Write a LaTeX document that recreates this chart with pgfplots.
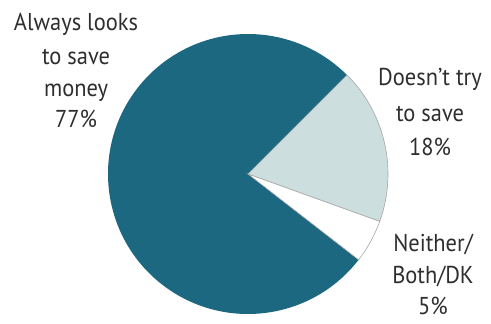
\documentclass[border=0pt]{standalone}
\usepackage{pgfplots}
\usepackage{pgfplotstable}
\pgfplotsset{compat=1.18}
\usepackage{fontspec}
\setmainfont[FakeStretch=0.92]{PT Sans}
\definecolor{darkteal}{RGB}{28,104,128}
\definecolor{lightslice}{RGB}{205,222,222}
\pgfplotstableread{
label value
Always 77
Doesnt 18
Neither 5
}\piedata
\begin{document}
\begin{tikzpicture}
\useasboundingbox (0,0) rectangle (491bp,324bp);
\pgfplotstablegetelem{1}{value}\of\piedata
\pgfmathsetmacro{\vb}{\pgfplotsretval}
\pgfplotstablegetelem{2}{value}\of\piedata
\pgfmathsetmacro{\vc}{\pgfplotsretval}
\pgfmathsetmacro{\aA}{45}
\pgfmathsetmacro{\aB}{\aA-3.6*\vb}
\pgfmathsetmacro{\aC}{\aB-3.6*\vc}
\pgfmathsetmacro{\aD}{\aA-360}
\begin{axis}[anchor=south west,at={(0,0)},x=1bp,y=1bp,xmin=0,xmax=491,ymin=0,ymax=324,hide axis,clip=false]
\fill[darkteal] (axis cs:248,150) -- ++(\aC:140bp) arc[start angle=\aC, end angle=\aD, radius=140bp] -- cycle;
\filldraw[fill=lightslice,draw=gray!70,line width=0.6pt] (axis cs:248,150) -- ++(\aA:140bp) arc[start angle=\aA, end angle=\aB, radius=140bp] -- cycle;
\filldraw[fill=white,draw=gray!70,line width=0.6pt] (axis cs:248,150) -- ++(\aB:140bp) arc[start angle=\aB, end angle=\aC, radius=140bp] -- cycle;
\begin{scope}[every node/.style={anchor=base,inner sep=0pt,font=\fontsize{24.5}{28}\selectfont,text=black!82}]
\node at (axis cs:76,294) {Always looks};
\node at (axis cs:76,260) {to save};
\node at (axis cs:76,228) {money};
\node at (axis cs:76,197) {77\%};
\node at (axis cs:430,239) {Doesn't try};
\node at (axis cs:430,203) {to save};
\node at (axis cs:430,169) {18\%};
\node at (axis cs:433,73) {Neither/};
\node at (axis cs:433,41) {Both/DK};
\node at (axis cs:433,10) {5\%};
\end{scope}
\end{axis}
\end{tikzpicture}
\end{document}
